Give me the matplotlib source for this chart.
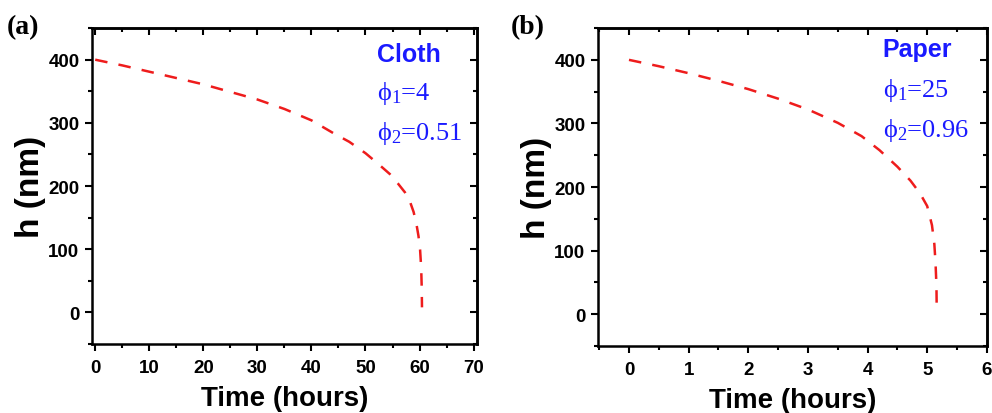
import matplotlib
matplotlib.use("Agg")
import matplotlib.pyplot as plt
from matplotlib.ticker import MultipleLocator

plt.rcParams['font.family'] = ['Liberation Sans', 'DejaVu Sans']
plt.rcParams['mathtext.fontset'] = 'custom'
plt.rcParams['mathtext.rm'] = 'Liberation Serif'
plt.rcParams['mathtext.it'] = 'Liberation Serif:italic'

# values
cloth_t = [0, 5, 10, 15, 20, 25, 30, 35, 40, 44, 47, 50, 52.5, 54.5, 56, 57.3,
           58.2, 58.9, 59.4, 59.8, 60.1, 60.3, 60.4, 60.45]
cloth_h = [400, 391, 381, 371, 361, 349, 337, 322, 304, 284, 270, 252, 234, 219, 204, 190,
           176, 159, 141, 121, 99, 71, 40, 8]

paper_t = [0, 0.5, 1, 1.5, 2, 2.5, 3, 3.5, 3.9, 4.2, 4.5, 4.72, 4.88, 5.0, 5.08,
           5.12, 5.14, 5.155, 5.16]
paper_h = [400, 390, 379, 367, 354, 339, 322, 301, 280, 258, 232, 210, 190, 170, 140,
           110, 80, 45, 3]

cloth_text = ["Cloth", "ϕ$_1$=4", "ϕ$_2$=0.51"]
paper_text = ["Paper", "ϕ$_1$=25", "ϕ$_2$=0.96"]

BLUE = "#1a1aff"
RED = "#ee1c1c"


def style_axes(ax, xlim, xmajor, xminor):
    ax.set_xlim(*xlim)
    ax.set_ylim(-50, 450)
    ax.xaxis.set_major_locator(MultipleLocator(xmajor))
    ax.xaxis.set_minor_locator(MultipleLocator(xminor))
    ax.yaxis.set_major_locator(MultipleLocator(100))
    ax.yaxis.set_minor_locator(MultipleLocator(50))
    for sp in ax.spines.values():
        sp.set_linewidth(1.8)
    ax.tick_params(which='both', direction='out', top=False, right=False, width=1.5)
    ax.tick_params(which='major', length=5, pad=4, labelsize=13.5)
    ax.tick_params(axis='x', which='major', pad=6)
    ax.tick_params(which='minor', length=3)
    for lab in ax.get_xticklabels() + ax.get_yticklabels():
        lab.set_fontweight('bold')

    # mirrored ticks on top/right pointing inward
    top = ax.secondary_xaxis('top')
    top.xaxis.set_major_locator(MultipleLocator(xmajor))
    top.xaxis.set_minor_locator(MultipleLocator(xminor))
    top.tick_params(which='both', direction='in', labeltop=False, width=1.5)
    top.tick_params(which='major', length=5)
    top.tick_params(which='minor', length=3)
    top.spines['top'].set_linewidth(1.8)
    right = ax.secondary_yaxis('right')
    right.yaxis.set_major_locator(MultipleLocator(100))
    right.yaxis.set_minor_locator(MultipleLocator(50))
    right.tick_params(which='both', direction='in', labelright=False, width=1.5)
    right.tick_params(which='major', length=5)
    right.tick_params(which='minor', length=3)
    right.spines['right'].set_linewidth(1.8)

    ax.set_xlabel("Time (hours)", fontsize=20, fontweight='bold', labelpad=6)
    ax.set_ylabel("h (nm)", fontsize=24, fontweight='bold', labelpad=2)


def add_text(ax, lines, x, ys):
    ax.text(x, ys[0], lines[0], transform=ax.transAxes, color=BLUE,
            fontsize=18, fontweight='bold', va='baseline')
    for s, y in zip(lines[1:], ys[1:]):
        ax.text(x, y, s, transform=ax.transAxes, color=BLUE, fontsize=19,
                family=['Liberation Serif', 'DejaVu Serif'], va='baseline')


fig = plt.figure(figsize=(9.92, 4.14), dpi=100)
ax1 = fig.add_axes([0.0927, 0.1667, 0.388, 0.763])
ax2 = fig.add_axes([0.6028, 0.1618, 0.392, 0.768])

ax1.plot(cloth_t, cloth_h, color=RED, lw=1.8, dashes=(5, 4.5))
ax2.plot(paper_t, paper_h, color=RED, lw=1.8, dashes=(5, 4.5))

style_axes(ax1, (-0.6, 70.6), 10, 5)
style_axes(ax2, (-0.52, 6.0), 1, 0.5)

add_text(ax1, cloth_text, 0.74, [0.896, 0.775, 0.649])
add_text(ax2, paper_text, 0.732, [0.913, 0.787, 0.661])

fig.text(0.007, 0.918, "(a)", fontsize=20, fontweight='bold',
         family=['Liberation Serif', 'DejaVu Serif'], va='baseline')
fig.text(0.515, 0.918, "(b)", fontsize=20, fontweight='bold',
         family=['Liberation Serif', 'DejaVu Serif'], va='baseline')

fig.savefig("out.png", dpi=100, facecolor='white')
